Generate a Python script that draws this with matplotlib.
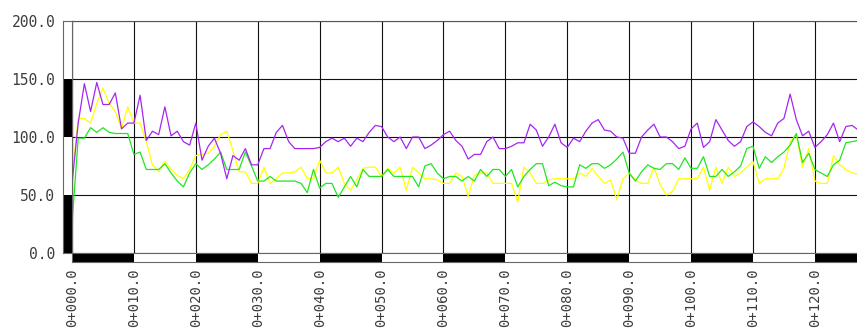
import numpy as np
import matplotlib
matplotlib.use("Agg")
import matplotlib.pyplot as plt

# =====================================
# DATA
# =====================================

purple = [60, 112, 146, 122, 147, 128, 128, 138, 107, 112,
          112, 136, 97, 105, 102, 126, 101, 105, 96, 93,
          112, 80, 92, 99, 86, 64, 84, 80, 90, 76,
          76, 90, 90, 104, 110, 96, 90, 90, 90, 90,
          91, 96, 99, 96, 99, 92, 99, 96, 104, 110,
          109, 100, 96, 100, 90, 100, 100, 90, 93, 97,
          102, 105, 97, 92, 81, 85, 85, 96, 100, 90,
          90, 92, 95, 95, 111, 106, 92, 100, 111, 95,
          91, 99, 96, 105, 112, 115, 106, 105, 100, 99,
          86, 86, 100, 106, 111, 100, 100, 96, 90, 92,
          107, 112, 91, 96, 115, 106, 97, 92, 96, 109,
          113, 109, 104, 101, 112, 116, 137, 115, 101, 105,
          91, 96, 102, 112, 96, 109, 110, 106]

yellow = [64, 116, 116, 112, 129, 142, 129, 122, 107, 126,
          112, 112, 96, 76, 70, 79, 72, 67, 64, 72,
          84, 85, 86, 92, 102, 105, 88, 70, 70, 60,
          60, 74, 60, 64, 69, 69, 70, 74, 64, 64,
          80, 69, 69, 74, 60, 54, 63, 73, 74, 74,
          66, 73, 69, 74, 54, 74, 69, 64, 64, 63,
          60, 60, 69, 66, 49, 67, 69, 69, 60, 60,
          60, 60, 44, 74, 69, 60, 60, 63, 64, 64,
          64, 64, 69, 66, 73, 66, 60, 63, 46, 64,
          69, 63, 60, 60, 74, 59, 50, 53, 64, 64,
          64, 64, 74, 54, 74, 60, 74, 66, 69, 74,
          79, 60, 64, 64, 64, 73, 96, 102, 74, 90,
          62, 60, 60, 84, 76, 72, 69, 68]

green = [25, 99, 99, 108, 104, 108, 104, 103, 103, 103,
         85, 87, 72, 72, 72, 77, 69, 62, 57, 69,
         77, 72, 76, 81, 87, 72, 72, 72, 87, 75,
         62, 62, 66, 62, 62, 62, 62, 60, 52, 72,
         56, 60, 60, 48, 57, 66, 57, 72, 66, 66,
         66, 72, 66, 66, 66, 66, 57, 75, 77, 69,
         64, 66, 66, 62, 66, 62, 72, 66, 72, 72,
         66, 72, 57, 66, 72, 77, 77, 58, 61, 58,
         57, 57, 76, 73, 77, 77, 73, 76, 81, 87,
         69, 62, 70, 76, 73, 72, 77, 77, 72, 82,
         73, 73, 83, 66, 66, 72, 66, 70, 75, 90,
         92, 73, 83, 78, 83, 87, 93, 103, 78, 86,
         72, 69, 66, 76, 80, 95, 96, 97]

chainage = np.arange(len(purple))          # one reading per unit
x_ticks = np.arange(0, 130, 10)
x_labels = ["0+%03d.0" % t for t in x_ticks]
y_ticks = [0, 50, 100, 150, 200]
y_labels = ["%.1f" % t for t in y_ticks]

# =====================================
# FIGURE
# =====================================

W, H = 857, 330
fig = plt.figure(figsize=(W / 100, H / 100), dpi=100)
fig.patch.set_facecolor("white")

x_max = 126.8
ax = fig.add_axes([72 / W, 77 / H, (W - 72) / W, 232 / H])
ax.set_xlim(0, x_max)
ax.set_ylim(0, 200)

ax.plot(chainage, yellow, color="#ffff00", lw=0.9, zorder=3)
ax.plot(chainage, green, color="#22e622", lw=0.9, zorder=4)
ax.plot(chainage, purple, color="#a526f2", lw=0.9, zorder=5)

ax.set_xticks(x_ticks)
ax.set_xticklabels(x_labels, rotation=90, va="top", ha="center",
                   family="DejaVu Sans Mono", fontsize=10, color="#3c3c3c")
ax.set_yticks(y_ticks)
ax.set_yticklabels(y_labels, family="DejaVu Sans Mono", fontsize=10.5,
                   color="#3c3c3c")
ax.tick_params(axis="x", length=0, pad=11)
ax.tick_params(axis="y", length=0, pad=12)
ax.grid(True, color="#111111", lw=0.8, zorder=1)
for side in ["right", "bottom"]:
    ax.spines[side].set_visible(False)
ax.spines["left"].set_color("#111111")
ax.spines["top"].set_color("#555555")

# =====================================
# SCALE BARS (left and bottom)
# =====================================

ax_l = fig.add_axes([63 / W, 77 / H, 9 / W, 232 / H])
ax_l.set_xlim(0, 1)
ax_l.set_ylim(0, 200)
for i, t in enumerate(y_ticks[:-1]):
    if i % 2 == 0:
        ax_l.axhspan(t, y_ticks[i + 1], color="black", lw=0)
ax_l.set_xticks([])
ax_l.set_yticks([])
for s in ax_l.spines.values():
    s.set_color("#666666")
    s.set_linewidth(0.8)

ax_b = fig.add_axes([72 / W, 68 / H, (W - 72) / W, 9 / H])
ax_b.set_xlim(0, x_max)
ax_b.set_ylim(0, 1)
for i, t in enumerate(x_ticks):
    if i % 2 == 0:
        ax_b.axvspan(t, t + 10, color="black", lw=0)
ax_b.set_xticks([])
ax_b.set_yticks([])
for s in ax_b.spines.values():
    s.set_color("#666666")
    s.set_linewidth(0.8)
ax_b.spines["right"].set_visible(False)

fig.savefig("out.png", dpi=100)
